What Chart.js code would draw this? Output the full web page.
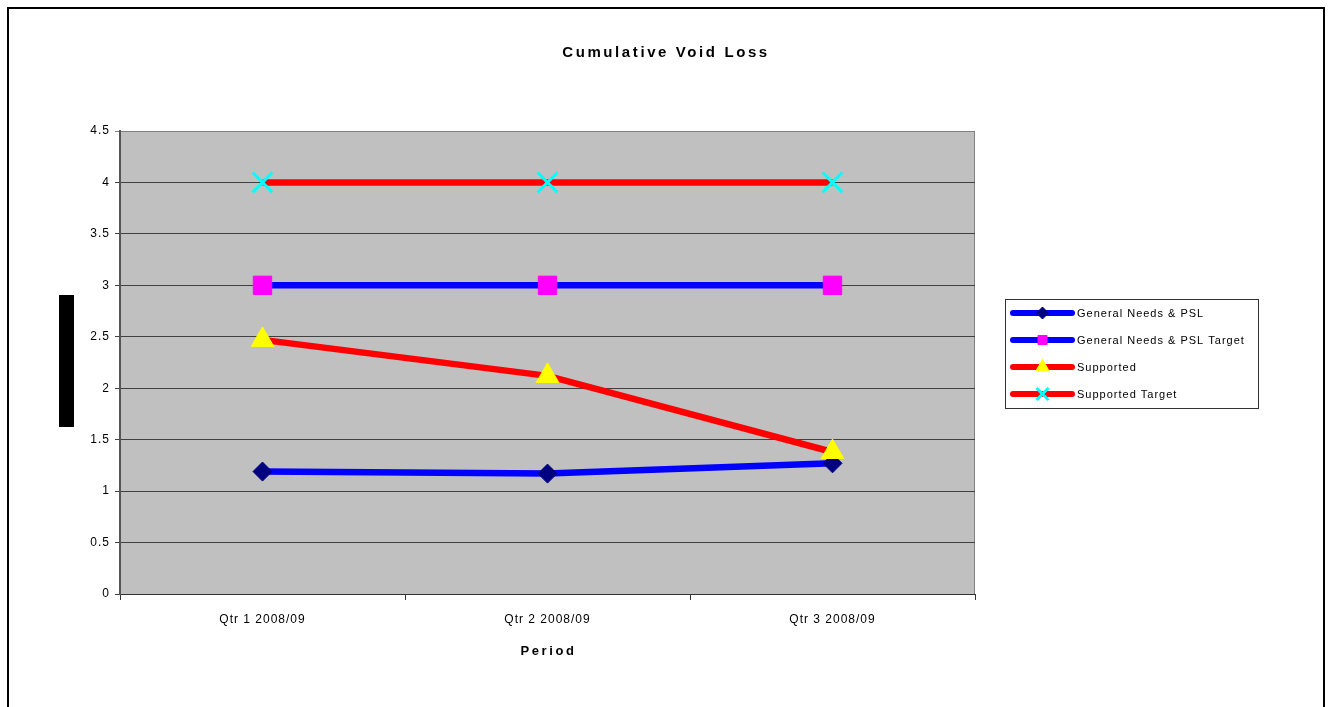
<!DOCTYPE html>
<html>
<head>
<meta charset="utf-8">
<title>Cumulative Void Loss</title>
<script src="https://cdn.jsdelivr.net/npm/chart.js@4.4.1/dist/chart.umd.min.js"></script>
<style>
  html, body { margin: 0; padding: 0; background: #fff; }
  #voidLoss { display: block; }
</style>
</head>
<body>
<canvas id="voidLoss" width="1328" height="707"></canvas>
<script>
// Dados
const periods = ['Qtr 1 2008/09', 'Qtr 2 2008/09', 'Qtr 3 2008/09']
const generalNeeds = [1.19, 1.17, 1.27]
const generalNeedsTarget = [3, 3, 3]
const supported = [2.47, 2.12, 1.38]
const supportedTarget = [4, 4, 4]
const seriesNames = ['General Needs & PSL', 'General Needs & PSL Target', 'Supported', 'Supported Target']
const yMin = 0
const yMax = 4.5
const yStep = 0.5

Chart.defaults.font.family = "'Liberation Sans', Arial, sans-serif"
Chart.defaults.color = '#000'

// fundo, moldura e área do gráfico
const framePlugin = {
    id: 'frame',
    beforeLayout(chart) {
        chart.ctx.letterSpacing = '1px'
    },
    beforeDraw(chart) {
        const ctx = chart.ctx
        const a = chart.chartArea
        ctx.save()
        ctx.fillStyle = '#fff'
        ctx.fillRect(0, 0, chart.width, chart.height)
        ctx.strokeStyle = '#000'
        ctx.lineWidth = 2
        ctx.strokeRect(8, 8, 1316, 760)
        ctx.fillStyle = '#c0c0c0'
        ctx.fillRect(a.left, a.top, a.right - a.left, a.bottom - a.top)
        ctx.strokeStyle = '#808080'
        ctx.lineWidth = 1
        ctx.strokeRect(a.left, a.top + 0.5, a.right - a.left - 0.5, a.bottom - a.top)
        // título do eixo Y (bloco preto)
        ctx.fillStyle = '#000'
        ctx.fillRect(59, 295, 15, 132)
        ctx.restore()
        ctx.letterSpacing = '1px'
    },
    afterDraw(chart) {
        const ctx = chart.ctx
        const a = chart.chartArea
        ctx.save()
        ctx.fillStyle = '#000'
        ctx.textAlign = 'center'
        ctx.textBaseline = 'middle'
        ctx.font = "bold 15px 'Liberation Sans', Arial, sans-serif"
        ctx.letterSpacing = '2.6px'
        ctx.fillText('Cumulative Void Loss', 666, 53)
        ctx.font = "bold 13px 'Liberation Sans', Arial, sans-serif"
        ctx.letterSpacing = '2.6px'
        ctx.fillText('Period', (a.left + a.right) / 2 + 1, 651)

        // legenda
        ctx.letterSpacing = '1px'
        ctx.strokeStyle = '#333'
        ctx.lineWidth = 1
        ctx.strokeRect(1005.5, 299.5, 253, 109)
        const legendSizes = [6, 6.4, 7.5, 8.5]
        chart.data.datasets.forEach(function(ds, i) {
            const y = 313 + i * 27
            ctx.strokeStyle = ds.borderColor
            ctx.lineWidth = 6
            ctx.lineCap = 'round'
            ctx.beginPath()
            ctx.moveTo(1013, y)
            ctx.lineTo(1072, y)
            ctx.stroke()
            ctx.fillStyle = ds.pointBackgroundColor
            ctx.strokeStyle = ds.pointBorderColor
            ctx.lineWidth = ds.pointBorderWidth
            ctx.lineCap = 'butt'
            Chart.helpers.drawPoint(ctx, {pointStyle: ds.pointStyle, radius: legendSizes[i], borderWidth: ds.pointBorderWidth, rotation: 0}, 1042.5, y)
            ctx.fillStyle = '#000'
            ctx.textAlign = 'left'
            ctx.font = "11px 'Liberation Sans', Arial, sans-serif"
            ctx.fillText(ds.label, 1077, y + 1)
        })
        ctx.restore()
    }
}

const dataVoidLoss = {
    labels: periods,
    datasets: [
        {
            label: seriesNames[0],
            data: generalNeeds,
            borderColor: '#0000ff',
            borderWidth: 6.5,
            pointStyle: 'rectRot',
            pointRadius: 9.5,
            pointBackgroundColor: '#000080',
            pointBorderColor: '#000080',
            pointBorderWidth: 1,
            order: 4
        },
        {
            label: seriesNames[1],
            data: generalNeedsTarget,
            borderColor: '#0000ff',
            borderWidth: 6.5,
            pointStyle: 'rect',
            pointRadius: 13,
            pointBackgroundColor: '#ff00ff',
            pointBorderColor: '#ff00ff',
            pointBorderWidth: 1,
            order: 3
        },
        {
            label: seriesNames[2],
            data: supported,
            borderColor: '#ff0000',
            borderWidth: 6.5,
            pointStyle: 'triangle',
            pointRadius: 13,
            pointBackgroundColor: '#ffff00',
            pointBorderColor: '#ffff00',
            pointBorderWidth: 1,
            order: 2
        },
        {
            label: seriesNames[3],
            data: supportedTarget,
            borderColor: '#ff0000',
            borderWidth: 6.5,
            pointStyle: 'crossRot',
            pointRadius: 14,
            pointBackgroundColor: '#00ffff',
            pointBorderColor: '#00ffff',
            pointBorderWidth: 3,
            order: 1
        }
    ]
}

const configVoidLoss = {
    type: 'line',
    data: dataVoidLoss,
    plugins: [framePlugin],
    options: {
        responsive: false,
        animation: false,
        layout: {
            padding: {top: 131, right: 353, bottom: 0, left: 0}
        },
        plugins: {
            legend: {display: false},
            title: {display: false},
            tooltip: {enabled: false}
        },
        elements: {
            line: {tension: 0, fill: false}
        },
        scales: {
            x: {
                type: 'category',
                offset: true,
                grid: {
                    offset: true,
                    drawOnChartArea: false,
                    drawTicks: true,
                    tickLength: 6,
                    color: '#333'
                },
                border: {display: true, color: '#333', width: 1},
                ticks: {
                    padding: 12,
                    maxRotation: 0,
                    font: {size: 12}
                },
                afterFit: function(scale) {
                    scale.height = 113
                }
            },
            y: {
                min: yMin,
                max: yMax,
                grid: {
                    color: function(c) { return c.tick && c.tick.value === yMax ? '#808080' : '#404040' },
                    lineWidth: 1,
                    tickLength: 5,
                    drawTicks: true
                },
                border: {display: true, color: '#555', width: 2},
                ticks: {
                    stepSize: yStep,
                    padding: 5,
                    font: {size: 12},
                    callback: function(value) { return String(value) }
                },
                afterFit: function(scale) {
                    scale.width = 120
                }
            }
        }
    }
}

const ctxVoidLoss = document.getElementById('voidLoss').getContext('2d')
new Chart(ctxVoidLoss, configVoidLoss)
</script>
</body>
</html>
